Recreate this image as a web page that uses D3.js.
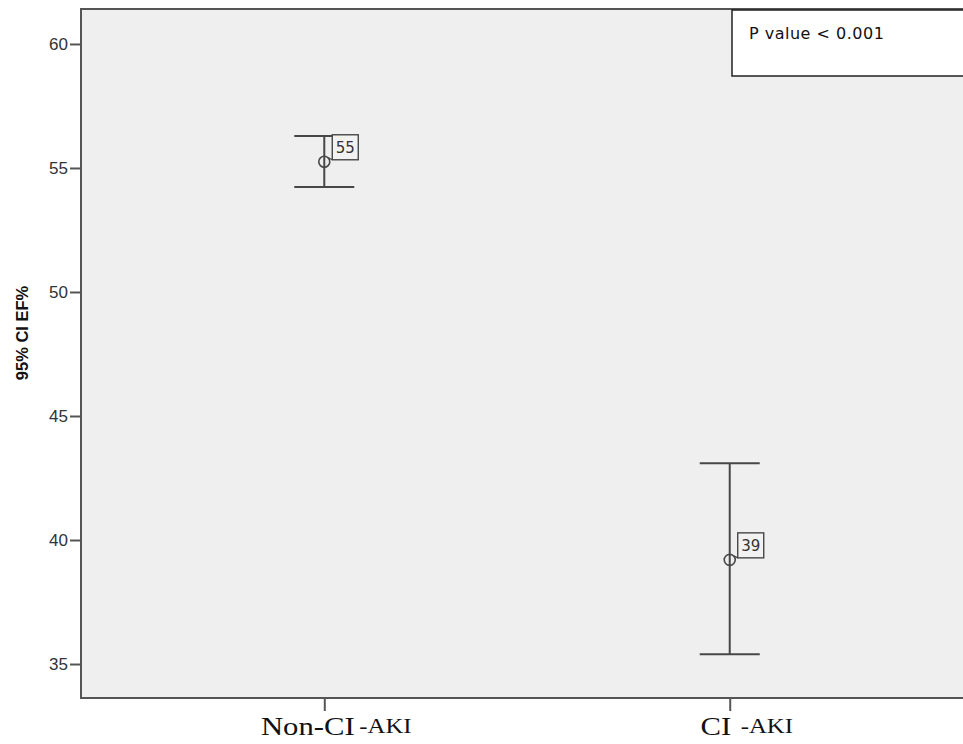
<!DOCTYPE html>
<html>
<head>
<meta charset="utf-8">
<script src="https://cdn.jsdelivr.net/npm/d3@7"></script>
<style>
  html, body { margin: 0; padding: 0; background: #ffffff; }
  svg { display: block; }
</style>
</head>
<body>
<svg id="chart" width="963" height="744"></svg>
<script>
// Group labels (main part and suffix) and the 95% CI of EF% per group
const groupMain   = ["Non-CI", "CI"];
const groupSuffix = ["-AKI", "-AKI"];
const groupKeys   = ["Non-CI-AKI", "CI-AKI"];
const meanEF      = [55.25, 39.2];
const lowerCI     = [54.23, 35.39];
const upperCI     = [56.29, 43.09];
const pointLabels = ["55", "39"];
const yTicks      = [35, 40, 45, 50, 55, 60];
const yTitle      = "95% CI EF%";
const pNote       = "P value < 0.001";

const svg = d3.select("#chart");
const plot = { left: 81, top: 9, right: 973, bottom: 698 };

const y = d3.scaleLinear()
  .domain([33.63, 61.41])
  .range([plot.bottom, plot.top]);

const x = d3.scalePoint()
  .domain(groupKeys)
  .range([plot.left, plot.right])
  .padding(0.6);

const ink = "#474747";

// plot background
svg.append("rect")
  .attr("x", plot.left).attr("y", plot.top)
  .attr("width", plot.right - plot.left).attr("height", plot.bottom - plot.top)
  .attr("fill", "#efefef");

// frame lines (left, top, bottom)
svg.append("path")
  .attr("d", `M${plot.right},${plot.top}H${plot.left}V${plot.bottom}H${plot.right}`)
  .attr("stroke", "#555").attr("stroke-width", 2).attr("fill", "none");

// y axis
const yAxis = svg.append("g")
  .attr("transform", `translate(${plot.left},0)`)
  .call(d3.axisLeft(y).tickValues(yTicks).tickSize(11).tickPadding(2).tickFormat(d3.format("d")));
yAxis.select(".domain").remove();
yAxis.selectAll(".tick line").attr("stroke", "#555").attr("stroke-width", 2);
yAxis.selectAll(".tick text")
  .attr("fill", "#333")
  .style("font-family", "Arial, 'Liberation Sans', sans-serif")
  .style("font-size", "17px");

// x axis ticks
const xAxis = svg.append("g")
  .attr("transform", `translate(0,${plot.bottom})`)
  .call(d3.axisBottom(x).tickSize(13).tickFormat(""));
xAxis.select(".domain").remove();
xAxis.selectAll(".tick line").attr("stroke", "#555").attr("stroke-width", 2);

// x category labels in serif, with a smaller suffix
const xl = svg.append("g")
  .style("font-family", "'Liberation Serif', 'Times New Roman', serif")
  .attr("fill", "#111");
groupKeys.forEach((k, i) => {
  const t = xl.append("text")
    .attr("transform", `translate(${x(k) + (i === 0 ? 12 : 17)},735) scale(1.18,1)`)
    .attr("text-anchor", "middle");
  t.append("tspan").style("font-size", "26px").text(groupMain[i]);
  t.append("tspan").attr("dx", i === 0 ? 4 : 8).attr("dy", -2).style("font-size", "21px").text(groupSuffix[i]);
});

// y title
svg.append("text")
  .attr("transform", `translate(28,333) rotate(-90)`)
  .attr("text-anchor", "middle")
  .style("font-family", "Arial, 'Liberation Sans', sans-serif")
  .style("font-size", "16.5px")
  .style("font-weight", "bold")
  .attr("fill", "#111")
  .text(yTitle);

// error bars
const bars = svg.append("g").attr("stroke", ink).attr("stroke-width", 2).attr("fill", "none");
const capHalf = 30;
groupKeys.forEach((k, i) => {
  const cx = x(k);
  bars.append("line").attr("x1", cx).attr("x2", cx).attr("y1", y(upperCI[i])).attr("y2", y(lowerCI[i]));
  bars.append("line").attr("x1", cx - capHalf).attr("x2", cx + capHalf).attr("y1", y(upperCI[i])).attr("y2", y(upperCI[i]));
  bars.append("line").attr("x1", cx - capHalf).attr("x2", cx + capHalf).attr("y1", y(lowerCI[i])).attr("y2", y(lowerCI[i]));
});

// mean markers with value labels
const marks = svg.append("g");
groupKeys.forEach((k, i) => {
  const cx = x(k), cy = y(meanEF[i]);
  marks.append("circle")
    .attr("cx", cx).attr("cy", cy).attr("r", 5.5)
    .attr("fill", "none").attr("stroke", ink).attr("stroke-width", 1.6);
  const bx = cx + 8, by = cy - 2;
  marks.append("line")
    .attr("x1", cx + 4).attr("y1", cy - 4).attr("x2", bx).attr("y2", by)
    .attr("stroke", ink).attr("stroke-width", 1.2);
  marks.append("rect")
    .attr("x", bx).attr("y", by - 25).attr("width", 26).attr("height", 25)
    .attr("fill", "#f2f2f2").attr("stroke", ink).attr("stroke-width", 1.4);
  marks.append("text")
    .attr("x", bx + 13).attr("y", by - 7)
    .attr("text-anchor", "middle")
    .style("font-family", "'DejaVu Sans', Verdana, sans-serif")
    .style("font-size", "15px")
    .attr("fill", "#333")
    .text(pointLabels[i]);
});

// p-value note box
const note = svg.append("g");
note.append("rect")
  .attr("x", 732).attr("y", plot.top + 1)
  .attr("width", 260).attr("height", 66)
  .attr("fill", "#ffffff").attr("stroke", "#222").attr("stroke-width", 1.5);
note.append("text")
  .attr("x", 749).attr("y", 39)
  .style("font-family", "'DejaVu Sans', Verdana, sans-serif")
  .style("font-size", "16px")
  .style("letter-spacing", "0.5px")
  .attr("fill", "#111")
  .text(pNote);
</script>
</body>
</html>
